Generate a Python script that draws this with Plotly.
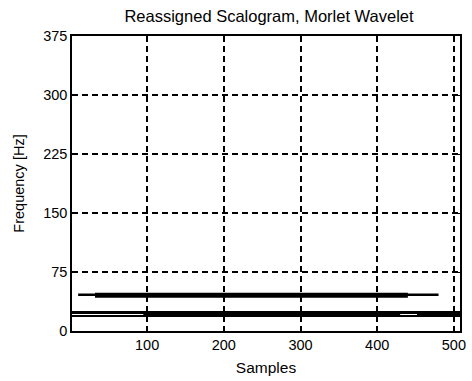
import plotly.graph_objects as go

# Ridge segments
upper_thin_x = [10, 480]
upper_thin_y = [46, 46]
upper_core_x = [32, 440]
upper_core_y = [45.5, 45.5]

lower_top_x = [2, 508]
lower_top_y = [23.5, 23.5]
lower_bot_x = [2, 508]
lower_bot_y = [19, 19]
lower_core_x = [95, 430]
lower_core_top = [23.5, 23.5]
lower_core_bot = [19, 19]
lower_end_x = [452, 508]
lower_end_top = [24, 24]
lower_end_bot = [18, 18]

x_ticks = [100, 200, 300, 400, 500]
y_ticks = [0, 75, 150, 225, 300, 375]

fig = go.Figure()

def line(x, y, w):
    fig.add_trace(go.Scatter(x=x, y=y, mode="lines",
                             line=dict(color="black", width=w),
                             showlegend=False, hoverinfo="skip"))

def band(x, top, bot):
    fig.add_trace(go.Scatter(x=x, y=bot, mode="lines",
                             line=dict(color="black", width=0),
                             showlegend=False, hoverinfo="skip"))
    fig.add_trace(go.Scatter(x=x, y=top, mode="lines", fill="tonexty",
                             fillcolor="black",
                             line=dict(color="black", width=0),
                             showlegend=False, hoverinfo="skip"))

line(upper_thin_x, upper_thin_y, 2.5)
line(upper_core_x, upper_core_y, 5)
line(lower_top_x, lower_top_y, 3)
line(lower_bot_x, lower_bot_y, 2)
band(lower_core_x, lower_core_top, lower_core_bot)
band(lower_end_x, lower_end_top, lower_end_bot)

FAM = "Liberation Sans, Arial, sans-serif"
font = dict(family=FAM, size=14.5, color="black")

fig.update_layout(
    width=472, height=381,
    margin=dict(l=72, r=6, t=36, b=50),
    paper_bgcolor="white", plot_bgcolor="white",
    font=font,
    title=dict(text="Reassigned Scalogram, Morlet Wavelet", x=0.570, xanchor="center",
               y=0.958, yanchor="middle",
               font=dict(size=16.5, color="black", family=FAM)),
    xaxis=dict(range=[2, 508], tickvals=x_ticks, ticks="inside", ticklen=4,
               tickcolor="black", showline=True, linecolor="black", linewidth=1.5,
               mirror="allticks", showgrid=True, gridcolor="black", gridwidth=1.5,
               griddash="6px,4px", zeroline=False,
               tickfont=dict(size=14.5, family=FAM, color="black"),
               title=dict(text="Samples", standoff=10,
                          font=dict(size=15.5, family=FAM, color="black"))),
    yaxis=dict(range=[0, 375], tickvals=y_ticks, ticks="inside", ticklen=4,
               tickcolor="black", showline=True, linecolor="black", linewidth=1.5,
               mirror="allticks", showgrid=True, gridcolor="black", gridwidth=1.5,
               griddash="6px,4px", zeroline=False,
               tickfont=dict(size=14.5, family=FAM, color="black"),
               title=dict(text="Frequency [Hz]", standoff=15,
                          font=dict(size=14.5, family=FAM, color="black"))),
)

fig.write_html("out.html")
